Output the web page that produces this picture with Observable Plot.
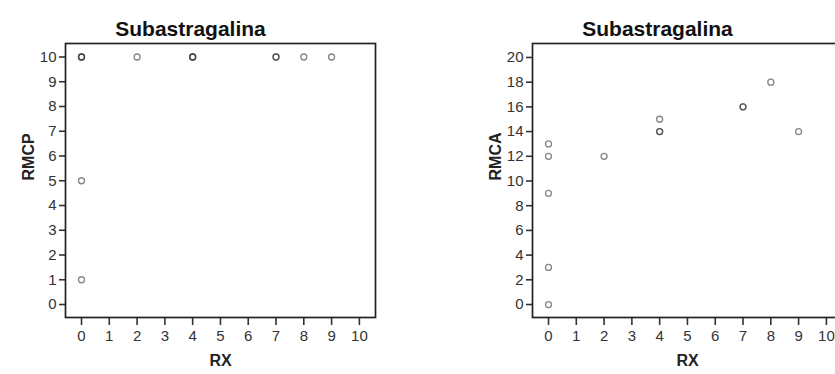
<!DOCTYPE html>
<html>
<head>
<meta charset="utf-8">
<script src="https://cdn.jsdelivr.net/npm/d3@7"></script>
<script src="https://cdn.jsdelivr.net/npm/@observablehq/plot@0.6"></script>
<style>
  html, body { margin: 0; padding: 0; background: #fff; overflow: hidden; }
  #wrap { position: relative; width: 835px; height: 374px; overflow: hidden; }
  #wrap svg { position: absolute; top: 0; }
</style>
</head>
<body>
<div id="wrap"></div>
<script>
const chartTitle = "Subastragalina";
const xLabel = "RX";
const leftYLabel = "RMCP";
const rightYLabel = "RMCA";

const rx   = [0, 0, 0, 0, 0, 2, 4, 4, 4, 7, 7, 8, 9];
const rmcp = [10, 10, 10, 5, 1, 10, 10, 10, 10, 10, 10, 10, 10];
const rmca = [13, 12, 9, 3, 0, 12, 15, 14, 14, 16, 16, 18, 14];

const xTicks = [0, 1, 2, 3, 4, 5, 6, 7, 8, 9, 10];
const leftYTicks = [0, 1, 2, 3, 4, 5, 6, 7, 8, 9, 10];
const rightYTicks = [0, 2, 4, 6, 8, 10, 12, 14, 16, 18, 20];

const FONT = "'Liberation Sans', Arial, sans-serif";

function panel(yValues, yLabel, yTicks, yDomain, opts) {
  const data = rx.map((x, i) => ({x, y: yValues[i]}));
  return Plot.plot({
    width: opts.width,
    height: 374,
    marginLeft: opts.marginLeft,
    marginRight: opts.marginRight,
    marginTop: 43,
    marginBottom: 57,
    style: {fontFamily: FONT, background: "white", color: "#222", overflow: "visible"},
    x: {domain: [-0.576, 10.58]},
    y: {domain: yDomain},
    marks: [
      Plot.axisX({ticks: xTicks, tickSize: 8, tickPadding: 5, fontSize: 15, strokeWidth: 1.6, stroke: "#333", fill: "#333", label: null, tickFormat: d => String(d)}),
      Plot.axisY({ticks: yTicks, tickSize: 6, tickPadding: 3, fontSize: 15, strokeWidth: 1.6, stroke: "#333", fill: "#333", label: null, tickFormat: d => String(d)}),
      Plot.frame({stroke: "#222", strokeWidth: 1.7}),
      Plot.dot(data, {x: "x", y: "y", r: 3, stroke: "#333", strokeOpacity: 0.6, strokeWidth: 1.3, fill: "none"}),
      Plot.text([chartTitle], {frameAnchor: "top", text: d => d, dy: -22, dx: -30, fontSize: 21, fontWeight: "bold", fill: "#111"}),
      Plot.text([xLabel], {frameAnchor: "bottom", text: d => d, dy: 48, fontSize: 16, fontWeight: "bold", fill: "#222"}),
      Plot.text([yLabel], {frameAnchor: "left", text: d => d, dx: -37, rotate: -90, fontSize: 16, fontWeight: "bold", fill: "#222"})
    ]
  });
}

const wrap = document.getElementById("wrap");
const left = panel(rmcp, leftYLabel, leftYTicks, [-0.525, 10.545], {width: 420, marginLeft: 65, marginRight: 45});
left.style.left = "0px";
wrap.appendChild(left);

const right = panel(rmca, rightYLabel, rightYTicks, [-1.05, 21.13], {width: 430, marginLeft: 112, marginRight: 8});
right.style.left = "420px";
wrap.appendChild(right);
</script>
</body>
</html>
